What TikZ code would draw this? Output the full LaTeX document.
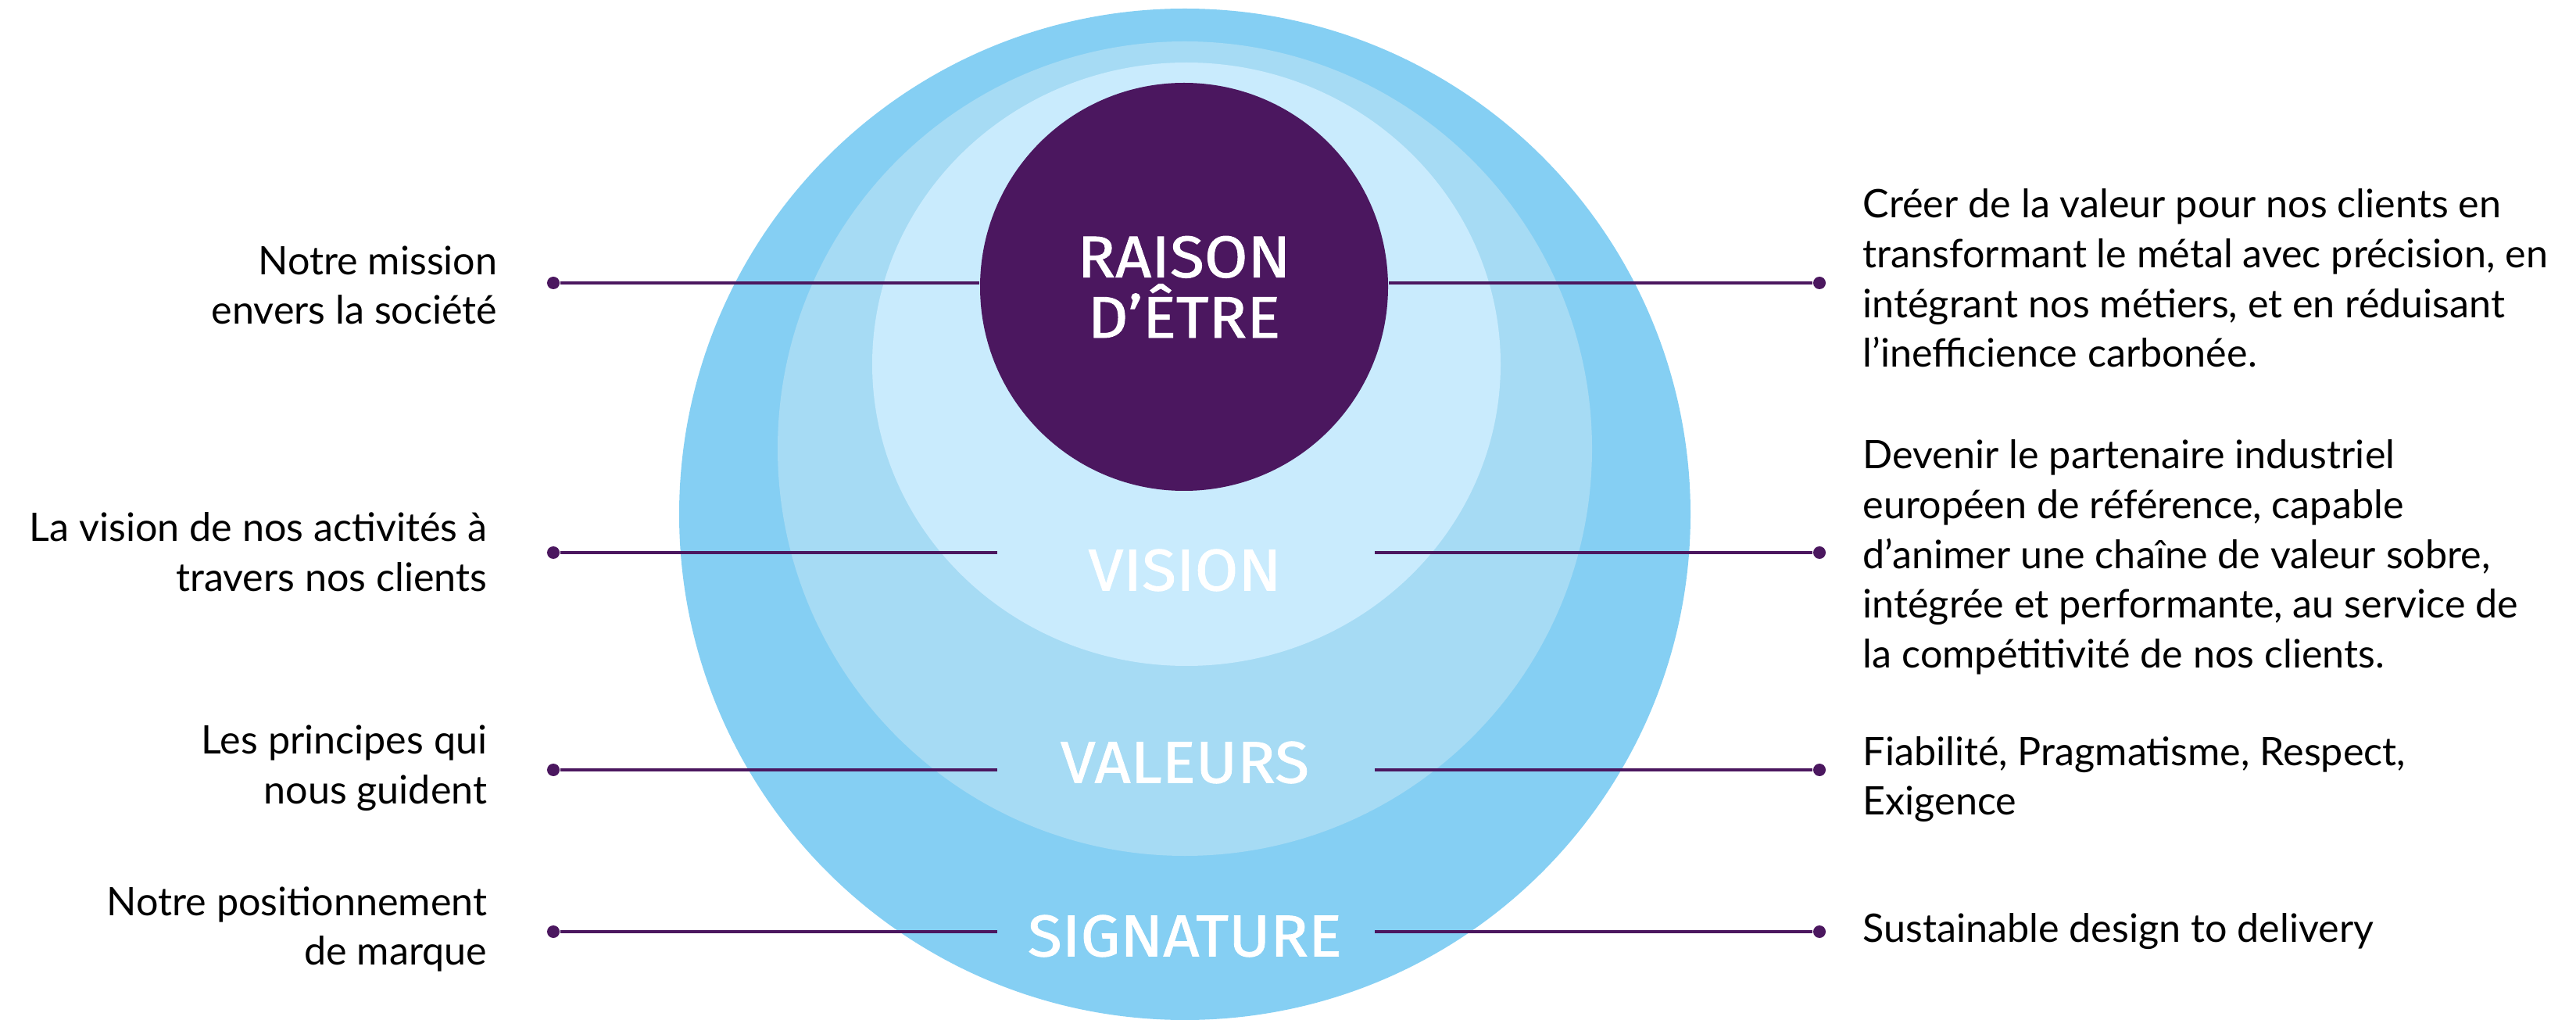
\documentclass[tikz,border=0pt]{standalone}
\usepackage{fontspec}
\setmainfont{Lato}
\newfontfamily\capsfont[FakeBold=1.2,FakeStretch=1.07]{Fira Sans}
\definecolor{outerblue}{HTML}{85CFF3}
\definecolor{midblue}{HTML}{A6DBF4}
\definecolor{innerblue}{HTML}{C9EBFD}
\definecolor{aubergine}{HTML}{4B175F}
\tikzset{
  dot/.style={circle,fill=aubergine,inner sep=0pt,minimum size=0.16cm},
  link/.style={aubergine,line width=0.04cm},
  layer/.style={text=white,font=\capsfont\fontsize{21.4}{22}\selectfont},
  leftnote/.style={anchor=east,align=right,inner sep=0pt,font=\fontsize{14.3}{18.1}\selectfont},
  rightnote/.style={anchor=west,align=left,inner sep=0pt,font=\fontsize{14.3}{18.1}\selectfont}
}
\begin{document}
\begin{tikzpicture}
\useasboundingbox (0,0) rectangle (32.96,13.04);
% nested circles
\fill[outerblue] (15.16,6.46) circle (6.47);
\fill[midblue] (15.16,7.30) circle (5.21);
\fill[innerblue] (15.18,8.38) ellipse (4.02 and 3.86);
\node[circle,fill=aubergine,minimum size=5.22cm,inner sep=0pt,layer,align=center] (raison) at (15.15,9.37) {RAISON\\D’ÊTRE};
\node[layer] (vision) at (15.16,5.745) {VISION};
\node[layer] (valeurs) at (15.16,3.285) {VALEURS};
\node[layer] (signature) at (15.16,1.065) {SIGNATURE};
% dots and links
\foreach \n/\y in {1/9.42,2/5.97,3/3.19,4/1.12} {
  \node[dot] (l\n) at (7.08,\y) {};
  \node[dot] (r\n) at (23.28,\y) {};
}
\draw[link] (l1) -- (l1 -| raison.west);
\draw[link] (r1) -- (r1 -| raison.east);
\foreach \n/\y in {2/5.97,3/3.19,4/1.12} {
  \coordinate (li\n) at (12.76,\y);
  \coordinate (ri\n) at (17.59,\y);
  \draw[link] (l\n) -- (li\n);
  \draw[link] (r\n) -- (ri\n);
}
% left texts
\node[leftnote] (m1) at (6.37,9.39) {Notre mission\\envers la société};
\node[leftnote] (m2) at (6.24,5.98) {La vision de nos activités à\\travers nos clients};
\node[leftnote] (m3) at (6.24,3.21) {Les principes qui\\nous guident};
\node[leftnote] (m4) at (6.24,1.15) {Notre positionnement\\de marque};
% right texts
\node[rightnote] (d1) at (23.83,9.48) {Créer de la valeur pour nos clients en\\transformant le métal avec précision, en\\intégrant nos métiers, et en réduisant\\l’inefficience carbonée.};
\node[rightnote] (d2) at (23.83,5.91) {Devenir le partenaire industriel\\européen de référence, capable\\d’animer une chaîne de valeur sobre,\\intégrée et performante, au service de\\la compétitivité de nos clients.};
\node[rightnote] (d3) at (23.83,3.07) {Fiabilité, Pragmatisme, Respect,\\Exigence};
\node[rightnote] (d4) at (23.83,1.12) {Sustainable design to delivery};
\end{tikzpicture}
\end{document}
